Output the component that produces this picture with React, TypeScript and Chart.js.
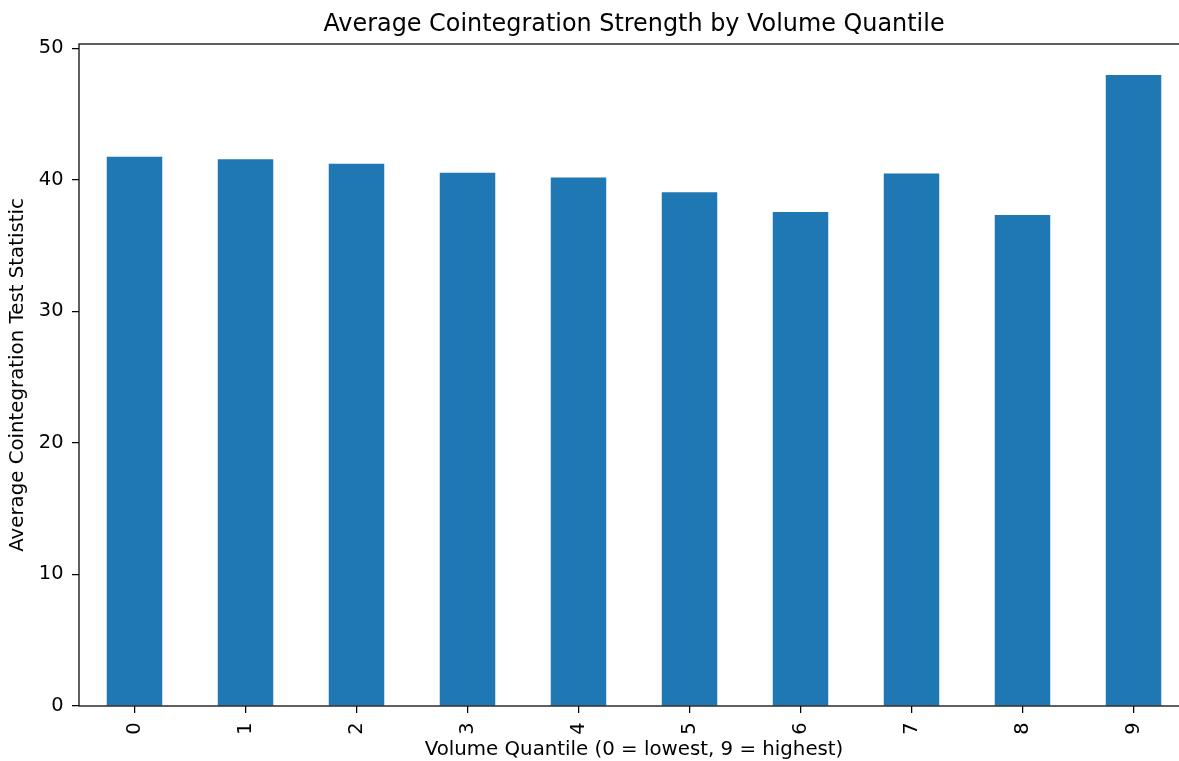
import React, { useEffect, useRef } from "react";
import { Chart, registerables } from "chart.js";

Chart.register(...registerables);

const categories = ["0", "1", "2", "3", "4", "5", "6", "7", "8", "9"];
const avgStat = [41.76, 41.56, 41.23, 40.55, 40.18, 39.05, 37.55, 40.48, 37.32, 47.98];
const yTicks = [0, 10, 20, 30, 40, 50];
const titleText = "Average Cointegration Strength by Volume Quantile";
const xLabel = "Volume Quantile (0 = lowest, 9 = highest)";
const yLabel = "Average Cointegration Test Statistic";

const FONT = "'DejaVu Sans', sans-serif";

const framePlugin = {
  id: "frame",
  afterDraw(chart: any) {
    const { ctx, chartArea } = chart;
    ctx.save();
    ctx.strokeStyle = "#000";
    ctx.lineWidth = 1.25;
    ctx.strokeRect(chartArea.left, chartArea.top, chartArea.right - chartArea.left, chartArea.bottom - chartArea.top);
    ctx.fillStyle = "#000";
    ctx.font = "23.9px " + FONT;
    ctx.textAlign = "center";
    ctx.textBaseline = "alphabetic";
    ctx.fillText(titleText, (chartArea.left + chartArea.right) / 2, chartArea.top - 13.3);
    ctx.restore();
  },
};

export default function App() {
  const ref = useRef<HTMLCanvasElement>(null);
  useEffect(() => {
    const chart = new Chart(ref.current!, {
      type: "bar",
      data: {
        labels: categories,
        datasets: [
          {
            data: avgStat,
            backgroundColor: "#1f77b4",
            barPercentage: 0.5,
            categoryPercentage: 1,
          },
        ],
      },
      options: {
        animation: false,
        responsive: false,
        devicePixelRatio: 1,
        layout: { padding: { left: 0, top: 44, right: 11, bottom: 0 } },
        plugins: { legend: { display: false }, tooltip: { enabled: false }, title: { display: false } },
        scales: {
          x: {
            offset: true,
            grid: { display: true, drawOnChartArea: false, drawTicks: true, tickLength: 7, lineWidth: 1.25, color: "#000", offset: false },
            border: { display: false },
            ticks: { color: "#000", font: { family: FONT, size: 19.4 }, minRotation: 90, maxRotation: 90, padding: 9.5 },
            title: { display: true, text: xLabel, color: "#000", font: { family: FONT, size: 19.8 }, padding: { top: 0, bottom: 0 } },
            afterFit: (s: any) => { s.height = 56; },
          },
          y: {
            min: 0,
            max: 50.33,
            afterBuildTicks: (s: any) => { s.ticks = yTicks.map((v) => ({ value: v })); },
            grid: { display: true, drawOnChartArea: false, drawTicks: true, tickLength: 7, lineWidth: 1.25, color: "#000" },
            border: { display: false },
            ticks: { color: "#000", font: { family: FONT, size: 19.4 }, padding: 8.5 },
            title: { display: true, text: yLabel, color: "#000", font: { family: FONT, size: 19.8 }, padding: { top: 5.5, bottom: 0 } },
            afterFit: (s: any) => { s.width = 79; },
          },
        },
      },
      plugins: [framePlugin],
    });
    return () => chart.destroy();
  }, []);
  return (
    <div style={{ position: "fixed", left: 0, top: 0, width: 1179, height: 761, overflow: "hidden", background: "#fff" }}>
      <canvas ref={ref} width={1200} height={762} style={{ display: "block" }} />
    </div>
  );
}
